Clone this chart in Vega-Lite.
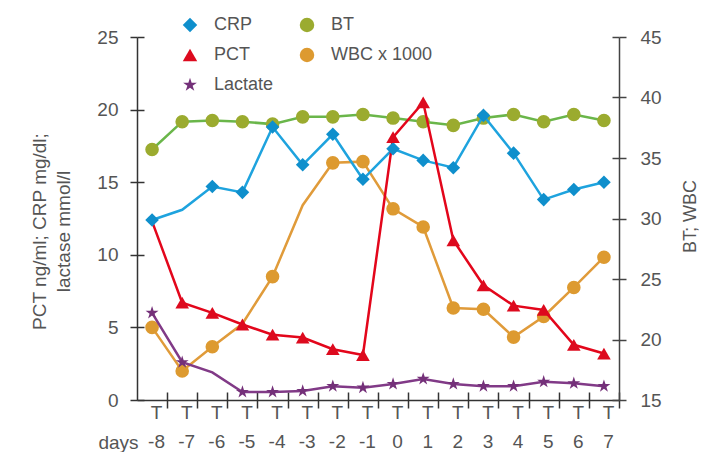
{
  "$schema": "https://vega.github.io/schema/vega-lite/v6.json",
  "width": 482,
  "height": 363,
  "autosize": "none",
  "padding": {"left": 137, "top": 37, "right": 82, "bottom": 52},
  "background": "white",
  "config": {
    "view": {"stroke": null},
    "font": "Liberation Sans",
    "axis": {"grid": false, "labelFont": "Liberation Sans", "titleFont": "Liberation Sans", "titleFontWeight": "normal"},
    "legend": {"labelFont": "Liberation Sans", "labelFontSize": 18, "labelColor": "#555"}
  },
  "datasets": {
    "d": [
      {"day": -8, "series": "CRP", "value": 12.4}, {"day": -7, "series": "CRP", "value": 13.1}, {"day": -6, "series": "CRP", "value": 14.7}, {"day": -5, "series": "CRP", "value": 14.3},
      {"day": -4, "series": "CRP", "value": 18.8}, {"day": -3, "series": "CRP", "value": 16.2}, {"day": -2, "series": "CRP", "value": 18.3}, {"day": -1, "series": "CRP", "value": 15.2},
      {"day": 0, "series": "CRP", "value": 17.3}, {"day": 1, "series": "CRP", "value": 16.5}, {"day": 2, "series": "CRP", "value": 16.0}, {"day": 3, "series": "CRP", "value": 19.6},
      {"day": 4, "series": "CRP", "value": 17.0}, {"day": 5, "series": "CRP", "value": 13.8}, {"day": 6, "series": "CRP", "value": 14.5}, {"day": 7, "series": "CRP", "value": 15.0},
      {"day": -8, "series": "PCT", "value": 12.3}, {"day": -7, "series": "PCT", "value": 6.7}, {"day": -6, "series": "PCT", "value": 6.0}, {"day": -5, "series": "PCT", "value": 5.2},
      {"day": -4, "series": "PCT", "value": 4.5}, {"day": -3, "series": "PCT", "value": 4.3}, {"day": -2, "series": "PCT", "value": 3.5}, {"day": -1, "series": "PCT", "value": 3.1},
      {"day": 0, "series": "PCT", "value": 18.1}, {"day": 1, "series": "PCT", "value": 20.5}, {"day": 2, "series": "PCT", "value": 11.0}, {"day": 3, "series": "PCT", "value": 7.9},
      {"day": 4, "series": "PCT", "value": 6.5}, {"day": 5, "series": "PCT", "value": 6.2}, {"day": 6, "series": "PCT", "value": 3.8}, {"day": 7, "series": "PCT", "value": 3.2},
      {"day": -8, "series": "Lactate", "value": 6.0}, {"day": -7, "series": "Lactate", "value": 2.6}, {"day": -6, "series": "Lactate", "value": 1.9}, {"day": -5, "series": "Lactate", "value": 0.55},
      {"day": -4, "series": "Lactate", "value": 0.55}, {"day": -3, "series": "Lactate", "value": 0.62}, {"day": -2, "series": "Lactate", "value": 0.95}, {"day": -1, "series": "Lactate", "value": 0.85},
      {"day": 0, "series": "Lactate", "value": 1.1}, {"day": 1, "series": "Lactate", "value": 1.45}, {"day": 2, "series": "Lactate", "value": 1.1}, {"day": 3, "series": "Lactate", "value": 0.95},
      {"day": 4, "series": "Lactate", "value": 0.95}, {"day": 5, "series": "Lactate", "value": 1.25}, {"day": 6, "series": "Lactate", "value": 1.15}, {"day": 7, "series": "Lactate", "value": 0.95},
      {"day": -8, "series": "BT", "value": 35.7}, {"day": -7, "series": "BT", "value": 38.0}, {"day": -6, "series": "BT", "value": 38.1}, {"day": -5, "series": "BT", "value": 38.0},
      {"day": -4, "series": "BT", "value": 37.8}, {"day": -3, "series": "BT", "value": 38.4}, {"day": -2, "series": "BT", "value": 38.4}, {"day": -1, "series": "BT", "value": 38.6},
      {"day": 0, "series": "BT", "value": 38.3}, {"day": 1, "series": "BT", "value": 38.0}, {"day": 2, "series": "BT", "value": 37.7}, {"day": 3, "series": "BT", "value": 38.3},
      {"day": 4, "series": "BT", "value": 38.6}, {"day": 5, "series": "BT", "value": 38.0}, {"day": 6, "series": "BT", "value": 38.6}, {"day": 7, "series": "BT", "value": 38.1},
      {"day": -8, "series": "WBC x 1000", "value": 21.0}, {"day": -7, "series": "WBC x 1000", "value": 17.4}, {"day": -6, "series": "WBC x 1000", "value": 19.4}, {"day": -5, "series": "WBC x 1000", "value": 21.3},
      {"day": -4, "series": "WBC x 1000", "value": 25.2}, {"day": -3, "series": "WBC x 1000", "value": 31.1}, {"day": -2, "series": "WBC x 1000", "value": 34.6}, {"day": -1, "series": "WBC x 1000", "value": 34.7},
      {"day": 0, "series": "WBC x 1000", "value": 30.8}, {"day": 1, "series": "WBC x 1000", "value": 29.3}, {"day": 2, "series": "WBC x 1000", "value": 22.6}, {"day": 3, "series": "WBC x 1000", "value": 22.5},
      {"day": 4, "series": "WBC x 1000", "value": 20.2}, {"day": 5, "series": "WBC x 1000", "value": 21.9}, {"day": 6, "series": "WBC x 1000", "value": 24.3}, {"day": 7, "series": "WBC x 1000", "value": 26.8}
    ]
  },
  "data": {"name": "d"},
  "encoding": {
    "x": {"field": "day", "type": "ordinal", "scale": {"type": "point", "padding": 0.5}, "axis": null}
  },
  "layer": [
    {
      "transform": [{"filter": "datum.series === 'BT' || datum.series === 'WBC x 1000'"}],
      "layer": [
        {
          "mark": {"type": "line", "strokeWidth": 2.5},
          "encoding": {
            "stroke": {"field": "series", "type": "nominal", "legend": null,
              "scale": {"domain": ["BT", "WBC x 1000", "CRP", "PCT", "Lactate"], "range": ["#6ab64a", "#e09b3a", "#1ea3de", "#e3061b", "#813a87"]}},
            "y": {"field": "value", "type": "quantitative", "scale": {"domain": [15, 45], "nice": false, "zero": false},
              "axis": {"orient": "right", "values": [15, 20, 25, 30, 35, 40, 45], "tickSize": 7, "tickWidth": 1.5, "domainWidth": 1.5, "tickColor": "#444", "domainColor": "#444",
                "labelFontSize": 19, "labelColor": "#555", "labelPadding": 14,
                "title": "BT; WBC", "titleFontSize": 18, "titleColor": "#555", "titleAngle": 270, "titleX": 71, "titleY": 179, "titleAlign": "center", "titleBaseline": "middle"}}
          }
        },
        {
          "transform": [{"filter": "!(datum.series === 'WBC x 1000' && (datum.day === -5 || datum.day === -3))"}],
          "mark": {"type": "point", "filled": true, "opacity": 1, "size": 185, "strokeWidth": 0},
          "encoding": {
            "fill": {"field": "series", "type": "nominal",
              "scale": {"domain": ["CRP", "PCT", "Lactate", "BT", "WBC x 1000"], "range": ["#0f8fcc", "#dd0a1e", "#743079", "#9bab2f", "#dd9a30"]},
              "legend": {"title": null, "orient": "none", "legendX": 44, "legendY": -21, "columns": 2, "columnPadding": 24, "rowPadding": 12,
                "symbolSize": 210, "symbolStrokeWidth": 0, "symbolOpacity": 1, "labelOffset": 15}},
            "shape": {"field": "series", "type": "nominal",
              "scale": {"domain": ["CRP", "PCT", "Lactate", "BT", "WBC x 1000"], "range": ["diamond", "triangle-up", "M0,-1L0.2245,-0.309L0.951,-0.309L0.363,0.118L0.588,0.809L0,0.382L-0.588,0.809L-0.363,0.118L-0.951,-0.309L-0.2245,-0.309Z", "circle", "circle"]},
              "legend": {"title": null, "orient": "none", "legendX": 44, "legendY": -21, "columns": 2, "columnPadding": 24, "rowPadding": 12,
                "symbolSize": 210, "symbolStrokeWidth": 0, "symbolOpacity": 1, "labelOffset": 15}},
            "y": {"field": "value", "type": "quantitative", "scale": {"domain": [15, 45], "nice": false, "zero": false},
              "axis": {"orient": "right", "values": [15, 20, 25, 30, 35, 40, 45], "tickSize": -7, "tickWidth": 1.5, "tickColor": "#444", "domain": false, "labels": false, "title": null}}
          }
        }
      ],
      "resolve": {"axis": {"y": "independent"}}
    },
    {
      "transform": [{"filter": "datum.series === 'CRP' || datum.series === 'PCT' || datum.series === 'Lactate'"}],
      "layer": [
        {
          "mark": {"type": "line", "strokeWidth": 2.5},
          "encoding": {
            "stroke": {"field": "series", "type": "nominal", "legend": null,
              "scale": {"domain": ["BT", "WBC x 1000", "CRP", "PCT", "Lactate"], "range": ["#6ab64a", "#e09b3a", "#1ea3de", "#e3061b", "#813a87"]}},
            "x": {"field": "day", "type": "ordinal", "scale": {"type": "point", "padding": 0.5},
              "axis": {"orient": "bottom", "tickSize": 8, "tickWidth": 1.5, "tickOffset": 15, "tickColor": "#333", "domainColor": "#333", "domainWidth": 1.5,
                "labelOffset": -11, "labelExpr": "['T', datum.label]", "labelLineHeight": 29, "labelFontSize": 19, "labelColor": "#555", "labelPadding": -5, "labelAngle": 0, "labelBaseline": "top",
                "title": "days", "titleFontSize": 19, "titleColor": "#555", "titleX": -19, "titleY": 42, "titleAlign": "center", "titleBaseline": "middle"}},
            "y": {"field": "value", "type": "quantitative", "scale": {"domain": [0, 25], "nice": false},
              "axis": {"orient": "left", "values": [0, 5, 10, 15, 20, 25], "tickSize": 7, "tickWidth": 1.5, "domainWidth": 1.5, "tickColor": "#333", "domainColor": "#333",
                "labelFontSize": 19, "labelColor": "#555", "labelPadding": 12,
                "title": ["PCT ng/ml; CRP mg/dl;", "lactase mmol/l"], "titleFontSize": 19, "titleColor": "#555", "titleLineHeight": 24, "titleAngle": 270, "titleX": -98, "titleY": 194, "titleAlign": "center", "titleBaseline": "middle"}}
          }
        },
        {
          "transform": [{"filter": "!((datum.series === 'CRP' && datum.day === -7) || (datum.series === 'PCT' && datum.day === -8) || (datum.series === 'Lactate' && datum.day === -6))"}],
          "mark": {"type": "point", "filled": true, "opacity": 1, "size": 185, "strokeWidth": 0},
          "encoding": {
            "fill": {"field": "series", "type": "nominal",
              "scale": {"domain": ["CRP", "PCT", "Lactate", "BT", "WBC x 1000"], "range": ["#0f8fcc", "#dd0a1e", "#743079", "#9bab2f", "#dd9a30"]},
              "legend": {"title": null, "orient": "none", "legendX": 44, "legendY": -21, "columns": 2, "columnPadding": 24, "rowPadding": 12,
                "symbolSize": 210, "symbolStrokeWidth": 0, "symbolOpacity": 1, "labelOffset": 15}},
            "shape": {"field": "series", "type": "nominal",
              "scale": {"domain": ["CRP", "PCT", "Lactate", "BT", "WBC x 1000"], "range": ["diamond", "triangle-up", "M0,-1L0.2245,-0.309L0.951,-0.309L0.363,0.118L0.588,0.809L0,0.382L-0.588,0.809L-0.363,0.118L-0.951,-0.309L-0.2245,-0.309Z", "circle", "circle"]},
              "legend": {"title": null, "orient": "none", "legendX": 44, "legendY": -21, "columns": 2, "columnPadding": 24, "rowPadding": 12,
                "symbolSize": 210, "symbolStrokeWidth": 0, "symbolOpacity": 1, "labelOffset": 15}},
            "x": {"field": "day", "type": "ordinal", "scale": {"type": "point", "padding": 0.5},
              "axis": {"orient": "bottom", "tickSize": -8, "tickWidth": 1.5, "tickOffset": 15, "tickColor": "#333", "domain": false, "labels": false, "title": null}},
            "y": {"field": "value", "type": "quantitative", "scale": {"domain": [0, 25], "nice": false},
              "axis": {"orient": "left", "values": [0, 5, 10, 15, 20, 25], "tickSize": -7, "tickWidth": 1.5, "tickColor": "#333", "domain": false, "labels": false, "title": null}}
          }
        }
      ],
      "resolve": {"axis": {"x": "independent", "y": "independent"}}
    }
  ],
  "resolve": {"scale": {"y": "independent"}}
}
